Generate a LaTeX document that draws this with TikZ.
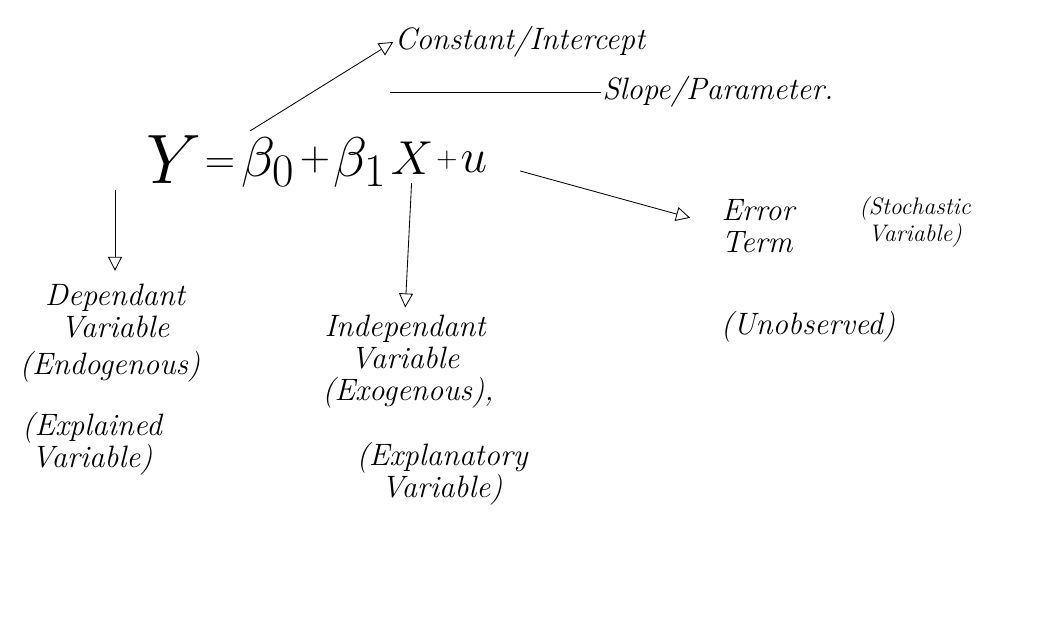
\documentclass[tikz,border=0pt]{standalone}
\usepackage{amsmath}
\usepackage{amssymb}
\usepackage{tikz}
\usetikzlibrary{arrows.meta}

\begin{document}
\begin{tikzpicture}[
            x=0.025cm,
            y=-0.025cm,
            term/.style={
                inner sep=0pt,
                scale=1.6,
                transform shape,
                font=\Huge
            },
            op/.style={
                inner sep=0pt,
                scale=1.2,
                transform shape,
                font=\Huge
            },
            note/.style={
                align=center,
                inner sep=1pt,
                font=\fontsize{22}{23}\selectfont\itshape
            },
            small note/.style={
                note,
                font=\fontsize{17}{19}\selectfont\itshape
            },
            arr/.style={
                draw,
                line width=0.6pt,
                -{Triangle[open,length=10pt,width=10pt]}
            }
        ]
            \useasboundingbox (0,0) rectangle (1064,627);

            \node[term, scale=1.25] (Y) at (174,160) {$Y$};
            \node[op] (eq)    at (220,166) {$=$};
            \node[term] (b0)  at (268,162) {$\beta_{0}$};
            \node[op] (plus)  at (315,160) {$+$};
            \node[term] (b1)  at (360,162) {$\beta_{1}$};
            \node[term, scale=0.85] (X) at (412,158) {$X$};
            \node[op, scale=0.7] (plus2) at (447,160) {$+$};
            \node[term, scale=0.85] (u) at (474,162) {$u$};

            \node[note] (const) at (520,42) {Constant/Intercept};
            \node[note] (slope) at (718,92) {Slope/Parameter.};

            \node[note] (dep)   at (115,311) {Dependant\\Variable};
            \node[note] (endo)  at (110,367) {(Endogenous)};
            \node[note] (expd)  at (92,444) {(Explained\\Variable)};

            \node[note] (indep) at (405,342) {Independant\\Variable};
            \node[note] (exo)   at (408,393) {(Exogenous),};
            \node[note] (expy)  at (442,474) {(Explanatory\\Variable)};

            \node[note, align=left] (err) at (758,226) {Error\\Term};
            \node[small note] (stoch) at (915,222) {(Stochastic\\Variable)};
            \node[note] (unob)  at (808,327) {(Unobserved)};

            \draw[arr, shorten <=8pt] (b0.north west) -- (const.west);
            \draw[line width=0.6pt] (X.north west |- slope.west) -- (slope.west);
            \draw[arr, shorten <=4pt, shorten >=8pt] (dep.north |- Y.south) -- (dep.north);
            \draw[arr, shorten <=6pt, shorten >=4pt] (X.south) -- (indep.north);
            \draw[arr, shorten <=24pt, shorten >=22pt] (u.east) -- (err.west);
        \end{tikzpicture}
\end{document}
